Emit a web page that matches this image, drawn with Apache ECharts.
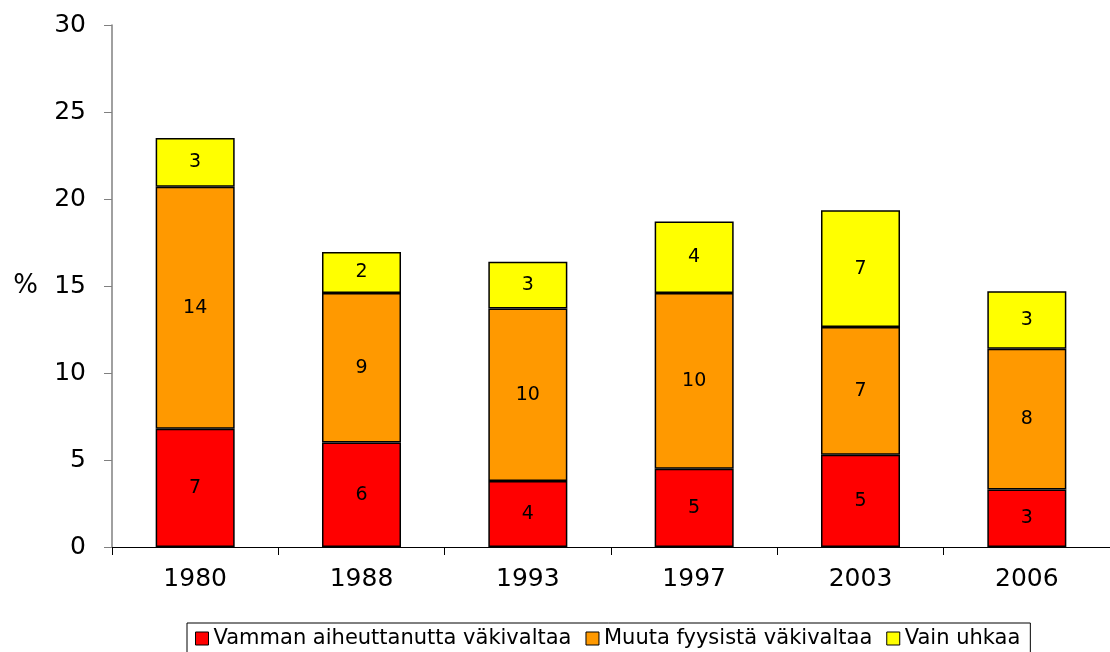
<!DOCTYPE html>
<html lang="fi">
<head>
<meta charset="UTF-8">
<title>Väkivalta</title>
<script src="https://cdn.jsdelivr.net/npm/echarts@6/dist/echarts.min.js"></script>
<style>
    html, body { margin: 0; padding: 0; background: #fff; }
    #main { width: 1110px; height: 652px; }
</style>
</head>
<body>
<div id="main"></div>
<script>
    // vuodet ja osuudet (%)
    var years = ['1980', '1988', '1993', '1997', '2003', '2006'];
    var vamma = [6.8, 6.0, 3.8, 4.5, 5.3, 3.3];
    var muuta = [13.9, 8.6, 9.9, 10.1, 7.35, 8.1];
    var uhkaa = [2.8, 2.35, 2.7, 4.1, 6.7, 3.3];
    var names = ['Vamman aiheuttanutta väkivaltaa', 'Muuta fyysistä väkivaltaa', 'Vain uhkaa'];
    var colors = ['#ff0000', '#ff9900', '#ffff00'];

    var font = 'DejaVu Sans';
    var myChart = echarts.init(document.getElementById('main'));

    function bar(name, data, color) {
        return {
            name: name,
            type: 'bar',
            stack: 'all',
            data: data,
            barWidth: '47.5%',
            itemStyle: { color: color, borderColor: '#000', borderWidth: 1.5 },
            label: {
                show: true,
                position: 'inside',
                color: '#000',
                fontSize: 19,
                fontFamily: font,
                formatter: function (p) { return Math.round(p.value); }
            }
        };
    }

    var option = {
        animation: false,
        backgroundColor: '#fff',
        grid: { left: 112, right: 0, top: 25, bottom: 105 },
        legend: {
            data: names,
            left: 187,
            top: 623,
            padding: [5, 10, 8, 8],
            borderColor: '#000',
            borderWidth: 1,
            itemWidth: 13,
            itemHeight: 13,
            itemGap: 14,
            icon: 'rect',
            itemStyle: { borderColor: '#000', borderWidth: 1 },
            textStyle: { fontSize: 21, color: '#000', fontFamily: font }
        },
        xAxis: {
            type: 'category',
            data: years,
            axisLine: { lineStyle: { color: '#000', width: 1 } },
            axisTick: { show: true, length: 8, lineStyle: { color: '#000' } },
            axisLabel: { color: '#000', fontSize: 25, margin: 20, fontFamily: font }
        },
        yAxis: {
            type: 'value',
            min: 0,
            max: 30,
            interval: 5,
            name: '%',
            nameLocation: 'middle',
            nameRotate: 0,
            nameGap: 74,
            nameTextStyle: { color: '#000', fontSize: 26, fontFamily: font },
            splitLine: { show: false },
            axisLine: { show: true, lineStyle: { color: '#808080', width: 1.5 } },
            axisTick: { show: true, length: 8, lineStyle: { color: '#808080' } },
            axisLabel: { color: '#000', fontSize: 25, margin: 26, fontFamily: font }
        },
        series: [
            bar(names[0], vamma, colors[0]),
            bar(names[1], muuta, colors[1]),
            bar(names[2], uhkaa, colors[2])
        ]
    };

    myChart.setOption(option);
</script>
</body>
</html>
